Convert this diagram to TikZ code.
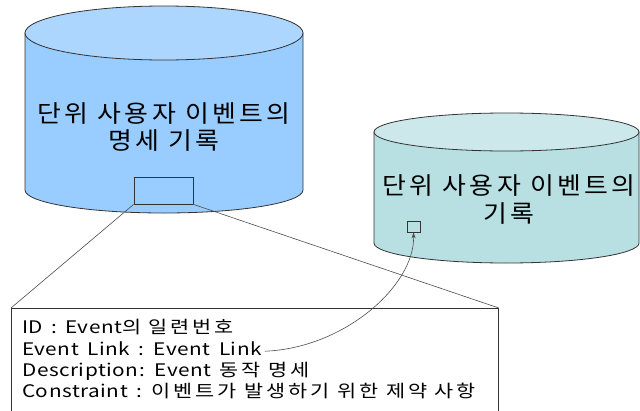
\documentclass[tikz,border=0pt]{standalone}
\usepackage{fontspec}
\setmainfont{Noto Sans CJK KR}
\newfontfamily\bigfont{Noto Sans CJK KR}[FakeStretch=1.08,LetterSpace=14]
\newfontfamily\boxfont{Noto Sans CJK KR}[FakeStretch=1.2,LetterSpace=3,WordSpace=1.6]
\newfontfamily\boxhfont{Noto Sans CJK KR}[FakeStretch=1.2,LetterSpace=17]
\newcommand\hk[1]{{\boxhfont #1}}
\usetikzlibrary{arrows.meta}
\definecolor{bluebody}{HTML}{99CCFF}
\definecolor{bluetop}{HTML}{ADD6FF}
\definecolor{tealbody}{HTML}{B8E0E2}
\definecolor{tealtop}{HTML}{CCE8EA}
\begin{document}
\begin{tikzpicture}[x=1pt,y=-1pt,
  cyl/.style={draw=black!80,line width=0.8pt},
  bigtext/.style={font=\bigfont\fontsize{24}{28}\selectfont,anchor=base,inner sep=0pt},
  boxtext/.style={font=\boxfont\fontsize{17.3}{20}\selectfont,anchor=base west,inner sep=0pt},
  conn/.style={draw=black!70,line width=0.6pt}]
\useasboundingbox (0,0) rectangle (640,410);
% big cylinder
\path[cyl,fill=bluebody] (25,33) -- (25,190) arc[start angle=180,end angle=360,x radius=139,y radius=-23] -- (303,33) -- cycle;
\path[cyl,fill=bluetop] (164,33) ellipse[x radius=139,y radius=27];
\node[bigtext] (spec1) at (164,122) {단위 사용자 이벤트의};
\node[bigtext] (spec2) at (164,149) {명세 기록};
\node[draw=black!80,fill=bluebody,line width=0.8pt,minimum width=59pt,minimum height=27pt,inner sep=0pt] (rec) at (163.5,190.5) {};
% right cylinder
\path[cyl,fill=tealbody] (374,132) -- (374,243) arc[start angle=180,end angle=360,x radius=132.5,y radius=-20] -- (639,132) -- cycle;
\path[cyl,fill=tealtop] (506.5,132) ellipse[x radius=132.5,y radius=19];
\node[bigtext] (log1) at (509,194) {단위 사용자 이벤트의};
\node[bigtext] (log2) at (509,222) {기록};
\node[draw=black!80,fill=tealbody,line width=0.8pt,minimum width=13pt,minimum height=11pt,inner sep=0pt] (sq) at (413.5,226.5) {};
% detail box
\node[draw=black!80,line width=0.8pt,anchor=north west,minimum width=487pt,minimum height=120pt,inner sep=0pt] (box) at (11,308) {};
\node[boxtext] (l1) at (22,333) {ID : Event\hk{의 일련번호}};
\node[boxtext] (l2) at (22,355) {Event Link : Event Link};
\node[boxtext] (l3) at (22,376) {Description: Event \hk{동작 명세}};
\node[boxtext] (l4) at (22,397) {Constraint : \hk{이벤트가 발생하기 위한 제약 사항}};
\draw[conn] (rec.south west) -- (box.north west);
\draw[conn] (rec.south east) -- (box.north east);
\coordinate (lk) at ([xshift=3pt,yshift=-3pt]l2.east);
\draw[conn,-{Stealth[length=6pt,width=4pt]}] (lk) .. controls (345,348) and (415,285) .. (sq.south);
\end{tikzpicture}
\end{document}
